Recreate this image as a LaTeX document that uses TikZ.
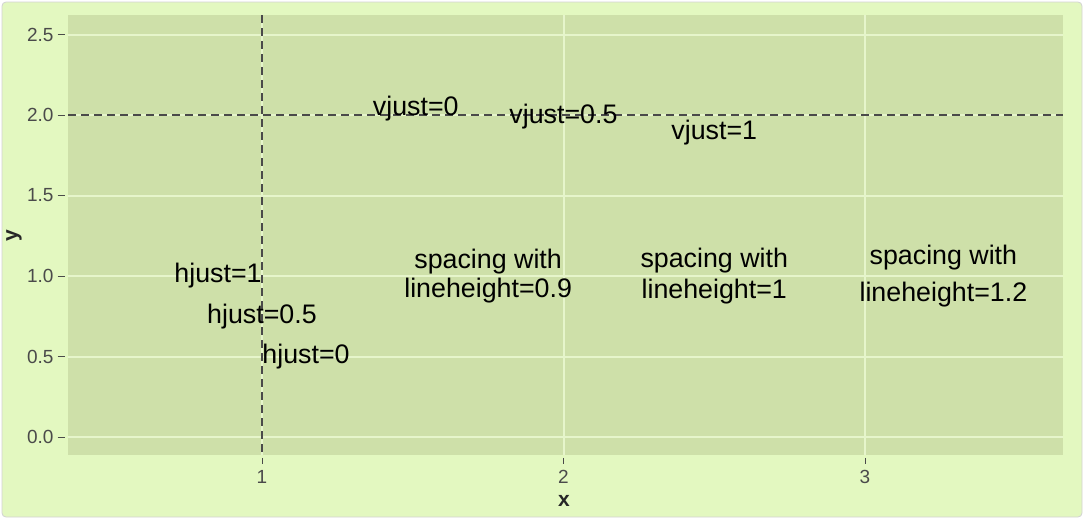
\documentclass[tikz,border=0pt]{standalone}
\usepackage{fontspec}
\setmainfont{Liberation Sans}
\usepackage{tikz}

\definecolor{paper}{HTML}{E3F8C0}
\definecolor{panelgreen}{HTML}{CEE0A9}
\definecolor{gridgreen}{HTML}{E6F5CB}
\definecolor{inkgray}{HTML}{4A4A4A}

\tikzset{
    annot/.style={inner sep=0pt, text=black, font=\fontsize{13.4pt}{16pt}\selectfont},
    ticklab/.style={inner sep=0pt, text=inkgray, font=\fontsize{9.5pt}{11pt}\selectfont},
    axtitle/.style={inner sep=0pt, text=black!85, font=\bfseries\fontsize{10.5pt}{12pt}\selectfont},
    refline/.style={draw=inkgray, line width=0.6pt, dash pattern=on 4pt off 2.5pt},
    gridline/.style={draw=gridgreen, line width=1pt},
}

\begin{document}
\begin{tikzpicture}[x=0.5pt, y=-0.5pt]
    \useasboundingbox (0, 0) rectangle (1084, 520);
    \draw[gray!35, fill=paper, rounded corners=2pt] (2, 2) rectangle (1082, 517);

    \begin{scope}[shift={(-39.5, 437)}, x=150.75pt, y=80.5pt]
        \fill[panelgreen] (0.357, -0.112) rectangle (3.657, 2.621);
        \foreach \yv in {0, 0.5, 1, 1.5, 2, 2.5}
            \draw[gridline] (0.357, \yv) -- (3.657, \yv);
        \foreach \xv in {1, 2, 3}
            \draw[gridline] (\xv, -0.112) -- (\xv, 2.621);

        % reference lines
        \coordinate (hl) at (0.357, 2);
        \coordinate (hr) at (3.657, 2);
        \coordinate (vt) at (1, 2.621);
        \coordinate (vb) at (1, -0.112);
        \draw[refline] (hl) -- (hr);
        \draw[refline] (vt) -- (vb);

        % y axis
        \foreach \yv/\lab in {0/0.0, 0.5/0.5, 1/1.0, 1.5/1.5, 2/2.0, 2.5/2.5} {
            \draw[inkgray, line width=0.5pt] (0.322, \yv) -- (0.347, \yv);
            \node[ticklab, anchor=east] at (0.31, \yv) {\lab};
        }
        % x axis
        \foreach \xv in {1, 2, 3} {
            \draw[inkgray, line width=0.5pt] (\xv, -0.13) -- (\xv, -0.17);
            \node[ticklab, anchor=center] at (\xv, -0.25) {\xv};
        }

        \node[annot, anchor=base] at (1.51, 2) (vj0) {vjust=0};
        \node[annot, anchor=center] at (2, 1.99) (vj05) {vjust=0.5};
        \node[annot, anchor=north] at (2.5, 1.97) (vj1) {vjust=1};

        \node[annot, anchor=east] at (1, 1) (hj1) {hjust=1};
        \node[annot, anchor=center] at (1, 0.75) (hj05) {hjust=0.5};
        \node[annot, anchor=west] at (1, 0.5) (hj0) {hjust=0};

        \node[annot, align=center, font=\fontsize{13.4pt}{14.5pt}\selectfont] at (1.75, 1) (lh09) {spacing with\\lineheight=0.9};
        \node[annot, align=center, font=\fontsize{13.4pt}{15.5pt}\selectfont] at (2.5, 1) (lh1) {spacing with\\lineheight=1};
        \node[annot, align=center, font=\fontsize{13.4pt}{18.5pt}\selectfont] at (3.26, 1) (lh12) {spacing with\\lineheight=1.2};
    \end{scope}

    \node[axtitle] at (564, 501) (xtitle) {x};
    \node[axtitle, rotate=90] at (14, 236) (ytitle) {y};
\end{tikzpicture}
\end{document}
